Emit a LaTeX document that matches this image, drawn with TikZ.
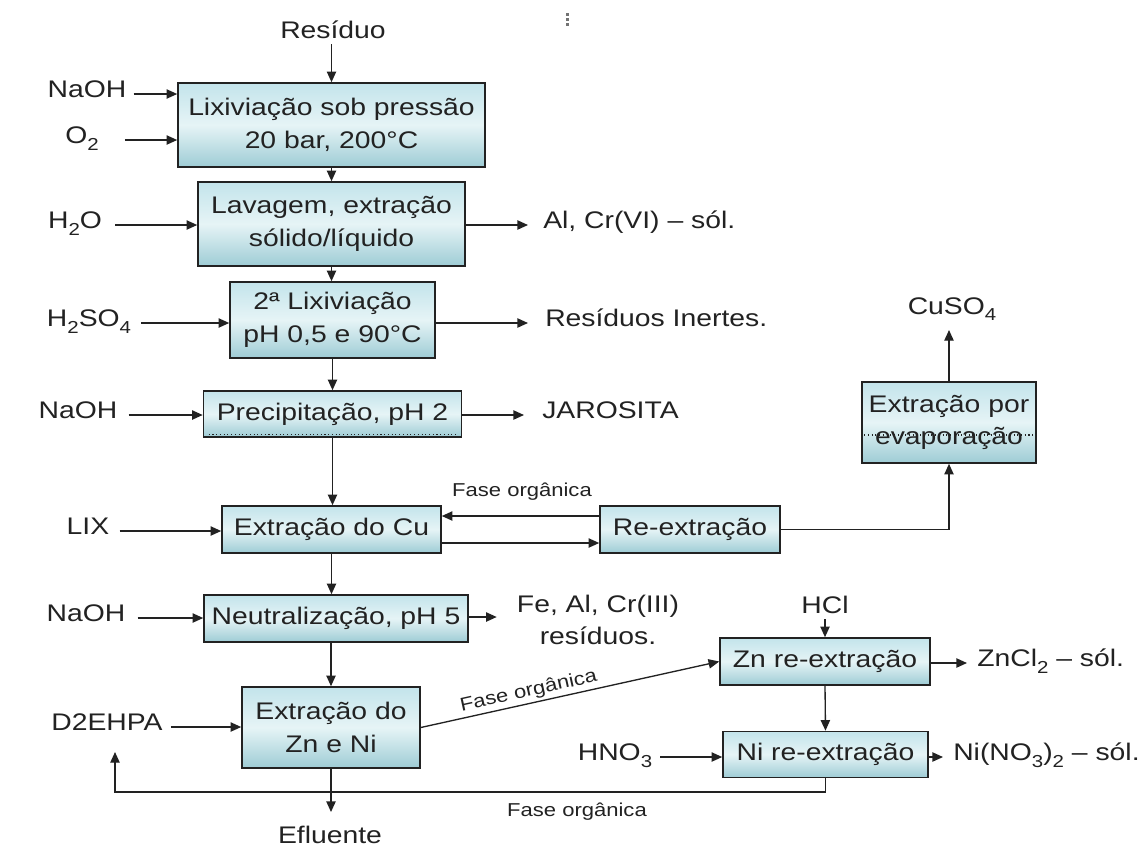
\documentclass[tikz,border=0pt]{standalone}
\usepackage{fontspec}
\setmainfont[FakeStretch=1.18]{Liberation Sans}
\usetikzlibrary{arrows.meta,calc}
\definecolor{boxtop}{HTML}{C3E4EB}
\definecolor{boxmid}{HTML}{E6F4F6}
\definecolor{boxbot}{HTML}{9ECCD5}
\definecolor{ink}{HTML}{222222}
\newcommand\sbs[1]{\raisebox{-0.28em}{\fontsize{13pt}{13pt}\selectfont #1}}
\newcommand\bigtxt{\fontsize{18pt}{24.5pt}\selectfont}
\newcommand\smalltxt{\fontsize{14pt}{16pt}\selectfont}

\begin{document}
\begin{tikzpicture}[x=0.75pt,y=-0.75pt,
  proc/.style 2 args={draw=ink, line width=1.2pt, top color=boxtop, bottom color=boxbot,
    middle color=boxmid, minimum width=#1*0.75pt, minimum height=#2*0.75pt,
    inner sep=0pt, align=center, font=\bigtxt, text=ink},
  lbl/.style={inner sep=0pt, font=\bigtxt, text=ink, align=center},
  note/.style={inner sep=0pt, font=\smalltxt, text=ink},
  flow/.style={draw=ink, line width=1pt, -{Triangle[length=8pt,width=7pt]}},
  dots/.style={draw=ink, dotted, line width=0.8pt}]

\useasboundingbox[fill=white] (0,0) rectangle (1138,850);

% main column of process steps
\node[proc={307}{84}] (b1) at (331.5,125) {Lixiviação sob pressão\\20 bar, 200°C};
\node[proc={267}{84}] (b2) at (331.5,224) {Lavagem, extração\\sólido/líquido};
\node[proc={205}{76}] (b3) at (332.5,320) {2ª Lixiviação\\pH 0,5 e 90°C};
\node[proc={258}{46}] (b4) at (332.5,414) {Precipitação, pH 2};
\node[proc={219}{47}] (cu) at (331.5,529.5) {Extração do Cu};
\node[proc={264}{47}] (neut) at (336,618.5) {Neutralização, pH 5};
\node[proc={178}{81}] (zn) at (331,727.5) {Extração do\\Zn e Ni};

% side branch
\node[proc={180}{47}] (reex) at (690,529.5) {Re-extração};
\node[proc={174}{81}] (evap) at (949,422.5) {Extração por\\evaporação};
\node[proc={210}{47}] (znre) at (825,661.5) {Zn re-extração};
\node[proc={205}{46}] (nire) at (825.5,754.5) {Ni re-extração};

% dotted rules inside two boxes
\draw[dots] ($(b4.south west)+(6,-3)$) -- ($(b4.south east)+(-6,-3)$);
\draw[dots] ($(evap.west)+(3,12.5)$) -- ($(evap.east)+(-3,12.5)$);

% feeds and products
\node[lbl] (res) at (333,30) {Resíduo};
\node[lbl, anchor=mid] (naoh1) at (87,94) {NaOH};
\node[lbl, anchor=mid] (o2) at (82,140) {O\sbs{2}};
\node[lbl, anchor=mid] (h2o) at (75,225) {H\sbs{2}O};
\node[lbl, anchor=mid west] (alcr) at (543,225) {Al, Cr(VI) – sól.};
\node[lbl, anchor=mid] (h2so4) at (89,323) {H\sbs{2}SO\sbs{4}};
\node[lbl, anchor=mid west] (resin) at (545,323) {Resíduos Inertes.};
\node[lbl, anchor=mid] (naoh2) at (78,415) {NaOH};
\node[lbl, anchor=mid west] (jaro) at (542,415) {JAROSITA};
\node[lbl, anchor=mid] (lix) at (88,531) {LIX};
\node[lbl, anchor=mid] (naoh3) at (86,618) {NaOH};
\node[lbl] (feal) at (598,620) {Fe, Al, Cr(III)\\resíduos.};
\node[lbl, anchor=mid] (d2) at (107,727) {D2EHPA};
\node[lbl] (ef) at (330,835) {Efluente};
\node[lbl] (cuso4) at (952,309) {CuSO\sbs{4}};
\node[lbl] (hcl) at (825,605) {HCl};
\node[lbl, anchor=mid] (hno3) at (615,757) {HNO\sbs{3}};
\node[lbl, anchor=mid west] (zncl) at (977,663) {ZnCl\sbs{2} – sól.};
\node[lbl, anchor=mid west] (ninos) at (953,757) {Ni(NO\sbs{3})\sbs{2} – sól.};

\node[note] (fo1) at (522,492) {Fase orgânica};
\node[note] (fo3) at (577,812) {Fase orgânica};
\coordinate (ret) at (115,752);

% main vertical flow
\draw[flow] ($(b1.north |- res.south)+(0,5)$) -- (b1.north);
\draw[flow] (b1.south) -- (b1.south |- b2.north);
\draw[flow] (b2.south) -- (b2.south |- b3.north);
\draw[flow] (b3.south) -- (b3.south |- b4.north);
\draw[flow] (b4.south) -- (b4.south |- cu.north);
\draw[flow] (cu.south) -- (cu.south |- neut.north);
\draw[flow] (zn.north |- neut.south) -- (zn.north);
\draw[flow] (zn.south) -- (zn.south |- 0,812);

% inputs
\draw[flow] ($(naoh1.mid east)+(7,0)$) -- (b1.west |- naoh1.mid);
\draw[flow] ($(o2.mid east)+(26,0)$) -- (b1.west |- o2.mid);
\draw[flow] ($(h2o.mid east)+(13,0)$) -- (b2.west |- h2o.mid);
\draw[flow] ($(h2so4.mid east)+(10,0)$) -- (b3.west |- h2so4.mid);
\draw[flow] ($(naoh2.mid east)+(11,0)$) -- (b4.west |- naoh2.mid);
\draw[flow] ($(lix.mid east)+(10,0)$) -- (cu.west |- lix.mid);
\draw[flow] ($(naoh3.mid east)+(12,0)$) -- (neut.west |- naoh3.mid);
\draw[flow] ($(d2.mid east)+(8,0)$) -- (zn.west |- d2.mid);
\draw[flow] ($(hcl.south)+(0,5)$) -- (znre.north);
\draw[flow] ($(hno3.mid east)+(8,0)$) -- (nire.west |- hno3.mid);

% outputs
\draw[flow] (b2.east |- alcr.mid) -- ($(alcr.mid west)+(-15,0)$);
\draw[flow] (b3.east |- resin.mid) -- ($(resin.mid west)+(-17,0)$);
\draw[flow] (b4.east |- jaro.mid) -- ($(jaro.mid west)+(-18,0)$);
\draw[flow] (neut.east |- 0,617) -- ($(feal.west |- 0,617)+(-20,0)$);
\draw[flow] (znre.east |- zncl.mid) -- ($(zncl.mid west)+(-10,0)$);
\draw[flow] (nire.east |- ninos.mid) -- ($(ninos.mid west)+(-10,0)$);

% copper loop
\draw[flow] (reex.west |- 0,516) -- (cu.east |- 0,516);
\draw[flow] (cu.east |- 0,543) -- (reex.west |- 0,543);
\draw[flow] (reex.east) -| (evap.south);
\draw[flow] (evap.north) -- (evap.north |- 0,330);

% zinc / nickel loop
\draw[flow] (zn.east) -- (znre.west)
  node[note, sloped, above=2pt, pos=0.37] {Fase orgânica};
\draw[flow] (znre.south) -- (nire.north);
\draw[flow] (nire.south) |- (ret |- 0,792) -- (ret);

% small mark near the top edge
\fill[black!55] (566,13) rectangle (569,15.5);
\fill[black!55] (566,18) rectangle (569,20.5);
\fill[black!55] (566,23) rectangle (569,25.5);
\end{tikzpicture}
\end{document}
